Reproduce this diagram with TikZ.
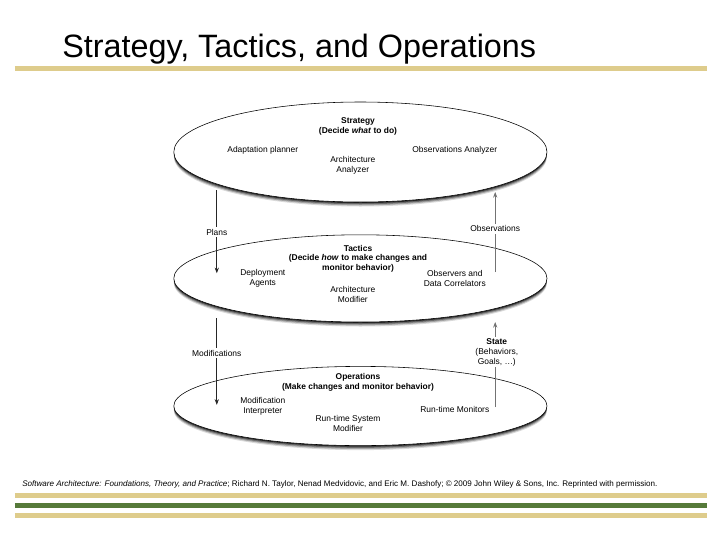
\documentclass[tikz,border=0pt]{standalone}
\usepackage{fontspec}
\setmainfont{Liberation Sans}
\usepackage{xcolor}
\usepackage{tikz}
\usetikzlibrary{
	shapes.geometric,
	arrows.meta,
	positioning,
	shadows,
	calc
}
\definecolor{slidegold}{RGB}{222,204,140}
\definecolor{slidegreen}{RGB}{86,122,58}

\begin{document}
\begin{tikzpicture}[
				layer/.style={
					ellipse, draw, thin, fill=white,
					minimum width=9.33cm,
					drop shadow={shadow xshift=0pt, shadow yshift=-3.2pt, fill=black, opacity=0.15},
					drop shadow={shadow xshift=0pt, shadow yshift=-2.4pt, fill=black, opacity=0.25},
					drop shadow={shadow xshift=0pt, shadow yshift=-1.6pt, fill=black, opacity=0.35},
					drop shadow={shadow xshift=0pt, shadow yshift=-0.8pt, fill=black, opacity=0.6}
				},
				txt/.style={
					align=center, inner sep=1pt, font=\fontsize{6}{7.1}\selectfont
				},
				boldtxt/.style={
					txt, font=\fontsize{6}{7.1}\selectfont\bfseries
				},
				arrowlabel/.style={
					txt, fill=white, inner sep=1.2pt
				},
				arrow/.style={-{Stealth[length=4pt,width=3pt]}, line width=0.5pt},
				rule/.style={line width=0.13cm}
				]
				\useasboundingbox (0,0) rectangle (18,-13.5);
				
				%title
				\node (title) at (1.55,-1.43) [anchor=base west, inner sep=0pt, font=\fontsize{23}{27}\selectfont] {Strategy, Tactics, and Operations};
				\draw [rule, slidegold] (0.37,-1.72) -- (17.68,-1.72);
				
				%first set
				\node (strategy) at (9.01,-3.8) [layer, minimum height=2.5cm] {};
				\node (strategytitle) at (strategy) [boldtxt, xshift=-0.06cm, yshift=0.65cm] {Strategy\\(Decide \textit{what} to do)};
				\node (adaptplan) at (strategy) [txt, xshift=-2.44cm, yshift=0.03cm] {Adaptation planner};
				\node (obsanalyzer) at (strategy) [txt, xshift=2.36cm, yshift=0.03cm] {Observations Analyzer};
				\node (archanalyzer) at (strategy) [txt, xshift=-0.19cm, yshift=-0.33cm] {Architecture\\Analyzer};
				
				%2. set
				\node (tactics) at (9.01,-6.96) [layer, minimum height=2.18cm] {};
				\node (tacticstitle) at (tactics) [boldtxt, xshift=-0.06cm, yshift=0.49cm] {Tactics\\(Decide \textit{how} to make changes and\\monitor behavior)};
				\node (deploy) at (tactics) [txt, xshift=-2.44cm, yshift=0.01cm] {Deployment\\Agents};
				\node (observers) at (tactics) [txt, xshift=2.36cm, yshift=0.01cm] {Observers and\\Data Correlators};
				\node (archmod) at (tactics) [txt, xshift=-0.19cm, yshift=-0.39cm] {Architecture\\Modifier};
				
				%3. set
				\node (operations) at (9.01,-10.15) [layer, minimum height=1.98cm] {};
				\node (opstitle) at (operations) [boldtxt, xshift=-0.06cm, yshift=0.6cm] {Operations\\(Make changes and monitor behavior)};
				\node (modinterp) at (operations) [txt, xshift=-2.44cm, yshift=0cm] {Modification\\Interpreter};
				\node (monitors) at (operations) [txt, xshift=2.36cm, yshift=-0.08cm] {Run-time Monitors};
				\node (rtsysmod) at (operations) [txt, xshift=-0.31cm, yshift=-0.43cm] {Run-time System\\Modifier};
				
				%arrows between the layers
				\coordinate (plansfrom) at (5.42,-4.75);
				\coordinate (plansto) at (5.42,-6.83);
				\draw [arrow, black!85] (plansfrom) -- (plansto);
				\node (plans) at (5.42,-5.8) [arrowlabel] {Plans};
				
				\coordinate (obsfrom) at (12.38,-6.8);
				\coordinate (obsto) at (12.38,-4.8);
				\draw [arrow, black!55] (obsfrom) -- (obsto);
				\node (observations) at (12.38,-5.72) [arrowlabel] {Observations};
				
				\coordinate (modsfrom) at (5.42,-7.95);
				\coordinate (modsto) at (5.42,-10.12);
				\draw [arrow, black!85] (modsfrom) -- (modsto);
				\node (modifications) at (5.42,-8.83) [arrowlabel] {Modifications};
				
				\coordinate (statefrom) at (12.38,-10.18);
				\coordinate (stateto) at (12.38,-8.05);
				\draw [arrow, black!55] (statefrom) -- (stateto);
				\node (state) at (12.42,-8.8) [arrowlabel] {\textbf{State}\\(Behaviors,\\Goals, \dots)};
				
				%caption and bottom rules
				\node (caption) at (0.55,-12.15) [anchor=base west, inner sep=0pt, font=\fontsize{5.74}{6.8}\selectfont] {\textit{Software Architecture: Foundations, Theory, and Practice}; Richard N. Taylor, Nenad Medvidovic, and Eric M. Dashofy; \textcopyright{} 2009 John Wiley \& Sons, Inc. Reprinted with permission.};
				\draw [rule, slidegold] (0.37,-12.38) -- (17.68,-12.38);
				\draw [rule, slidegreen] (0.37,-12.63) -- (17.68,-12.63);
				\draw [rule, slidegold] (0.37,-12.88) -- (17.68,-12.88);
\end{tikzpicture}
\end{document}
